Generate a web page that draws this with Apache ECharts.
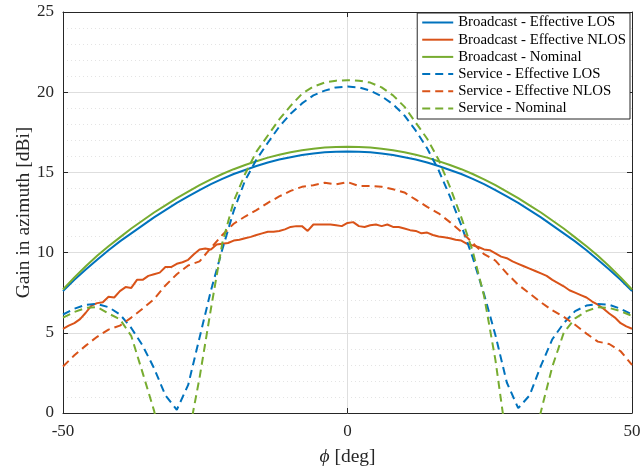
<!DOCTYPE html>
<html>
<head>
<meta charset="utf-8">
<script src="https://cdn.jsdelivr.net/npm/echarts@6/dist/echarts.min.js"></script>
<style>
  html, body { margin: 0; padding: 0; background: #fff; }
  #chart { width: 642px; height: 468px; }
</style>
</head>
<body>
<div id="chart"></div>
<script>
// azimuth angles, 2 deg step (smooth curves) and 1 deg step (ragged NLOS curve)
const phi = [-50, -48, -46, -44, -42, -40, -38, -36, -34, -32, -30, -28, -26, -24, -22, -20, -18, -16, -14, -12, -10, -8, -6, -4, -2,
  0, 2, 4, 6, 8, 10, 12, 14, 16, 18, 20, 22, 24, 26, 28, 30, 32, 34, 36, 38, 40, 42, 44, 46, 48, 50];
const phiFine = [-50, -49, -48, -47, -46, -45, -44, -43, -42, -41, -40, -39, -38, -37, -36, -35, -34, -33, -32, -31, -30,
  -29, -28, -27, -26, -25, -24, -23, -22, -21, -20, -19, -18, -17, -16, -15, -14, -13, -12, -11, -10,
  -9, -8, -7, -6, -5, -4, -3, -2, -1, 0, 1, 2, 3, 4, 5, 6, 7, 8, 9, 10,
  11, 12, 13, 14, 15, 16, 17, 18, 19, 20, 21, 22, 23, 24, 25, 26, 27, 28, 29, 30,
  31, 32, 33, 34, 35, 36, 37, 38, 39, 40, 41, 42, 43, 44, 45, 46, 47, 48, 49, 50];

const broadcastLos = [7.6, 8.3, 8.95, 9.55, 10.15, 10.7, 11.2, 11.7, 12.2, 12.65, 13.1, 13.5, 13.9, 14.27, 14.6, 14.9, 15.15, 15.4, 15.62, 15.8, 15.95, 16.08, 16.18, 16.25, 16.28,
  16.3, 16.28, 16.25, 16.18, 16.08, 15.95, 15.8, 15.62, 15.4, 15.15, 14.9, 14.6, 14.27, 13.9, 13.5, 13.1, 12.65, 12.2, 11.7, 11.2, 10.7, 10.15, 9.55, 8.95, 8.3, 7.6];
const broadcastNominal = [7.7, 8.45, 9.15, 9.8, 10.4, 10.95, 11.5, 12.0, 12.5, 12.95, 13.4, 13.8, 14.2, 14.57, 14.9, 15.2, 15.46, 15.7, 15.92, 16.1, 16.26, 16.38, 16.48, 16.55, 16.58,
  16.6, 16.58, 16.55, 16.48, 16.38, 16.26, 16.1, 15.92, 15.7, 15.46, 15.2, 14.9, 14.57, 14.2, 13.8, 13.4, 12.95, 12.5, 12.0, 11.5, 10.95, 10.4, 9.8, 9.15, 8.45, 7.7];
const broadcastNlos = [5.25, 5.45, 5.6, 5.85, 6.25, 6.7, 6.85, 6.9, 7.25, 7.2, 7.6, 7.85, 7.8, 8.3, 8.3, 8.55, 8.65, 8.75, 9.1, 9.1, 9.3,
  9.4, 9.55, 9.9, 10.2, 10.25, 10.2, 10.5, 10.55, 10.6, 10.75, 10.8, 10.9, 10.98, 11.1, 11.2, 11.3, 11.3, 11.35, 11.45, 11.6,
  11.65, 11.65, 11.35, 11.75, 11.75, 11.75, 11.75, 11.7, 11.65, 11.85, 11.9, 11.65, 11.6, 11.7, 11.75, 11.65, 11.75, 11.6, 11.6, 11.5,
  11.4, 11.35, 11.2, 11.25, 11.1, 11.0, 10.95, 10.9, 10.8, 10.75, 10.55, 10.45, 10.35, 10.2, 10.15, 9.95, 9.75, 9.65, 9.45, 9.3,
  9.15, 9.0, 8.85, 8.7, 8.55, 8.3, 8.1, 7.9, 7.65, 7.5, 7.35, 7.2, 6.95, 6.75, 6.5, 6.2, 5.95, 5.6, 5.4, 5.25];
const serviceLos = [6.14, 6.5, 6.75, 6.8, 6.6, 6.15, 5.3, 4.2, 2.8, 1.1, 0.2, 1.75, 4.7, 7.64, 10.2, 12.6, 14.5, 15.8, 16.85, 17.85, 18.65, 19.3, 19.8, 20.1, 20.3,
  20.35, 20.3, 20.1, 19.75, 19.25, 18.55, 17.6, 16.5, 15.15, 13.5, 11.7, 9.7, 7.4, 4.85, 1.9, 0.3, 1.1, 2.95, 4.6, 5.6, 6.35, 6.7, 6.8, 6.75, 6.5, 6.15];
const serviceNlos = [2.9, 3.6, 4.2, 4.75, 5.2, 5.45, 5.95, 6.5, 7.1, 7.95, 8.65, 9.2, 9.45, 10.3, 11.1, 11.8, 12.25, 12.65, 13.1, 13.5, 13.85, 14.1, 14.2, 14.35, 14.25,
  14.4, 14.15, 14.15, 14.1, 13.95, 13.75, 13.3, 12.85, 12.45, 11.9, 11.3, 10.6, 9.9, 9.5, 8.7, 8.0, 7.45, 6.9, 6.4, 6.0, 5.5, 4.95, 4.45, 4.3, 3.85, 3.0];
const serviceNominal = [5.94, 6.3, 6.55, 6.6, 6.2, 5.85, 4.8, 2.5, 0.15, -3, -5, -1.55, 2.2, 6.5, 10.6, 13.2, 14.9, 16.3, 17.3, 18.3, 19.15, 19.9, 20.35, 20.6, 20.72,
  20.75, 20.72, 20.6, 20.3, 19.8, 19.1, 18.1, 17.1, 15.8, 14.1, 12.2, 10.1, 7.3, 3.3, -1.8, -5, -3, 0.1, 2.9, 5.0, 5.9, 6.35, 6.6, 6.55, 6.35, 6.05];

const blue = '#0072BD', orange = '#D95319', green = '#77AC30';
const font = 'Liberation Serif';
const ink = '#262626';

function pairs(xs, ys) {
  return xs.map((x, i) => [x, ys[i]]);
}

function line(name, xs, ys, color, dashed) {
  return {
    name: name,
    type: 'line',
    data: pairs(xs, ys),
    symbol: 'none',
    clip: true,
    animation: false,
    itemStyle: { color: color },
    lineStyle: { color: color, width: 2, type: dashed ? [8, 5] : 'solid' }
  };
}

const chart = echarts.init(document.getElementById('chart'));

chart.setOption({
  backgroundColor: '#fff',
  animation: false,
  grid: { left: 63, right: 10, top: 12, bottom: 55, outerBoundsMode: 'none', containLabel: false },
  legend: {
    orient: 'vertical',
    right: 12,
    top: 13,
    itemWidth: 31,
    itemHeight: 14,
    itemGap: 2.2,
    padding: [2, 4, 3, 4],
    borderColor: ink,
    borderWidth: 1,
    backgroundColor: '#fff',
    itemStyle: { opacity: 0 },
    textStyle: { fontFamily: font, fontSize: 14.8, color: '#000' }
  },
  xAxis: [
    {
      type: 'value', min: -50, max: 50, interval: 50,
      axisLine: { onZero: false, lineStyle: { color: ink, width: 1 } },
      axisTick: { inside: true, length: 5, lineStyle: { color: ink } },
      axisLabel: { fontFamily: font, fontSize: 17, color: ink, margin: 10 },
      splitLine: { show: true, lineStyle: { color: '#dedede', width: 1 } },
      name: '{i|ϕ} [deg]',
      nameLocation: 'middle',
      nameGap: 34,
      nameMoveOverlap: false,
      nameTextStyle: {
        fontFamily: font, fontSize: 19.5, color: ink,
        rich: { i: { fontFamily: font, fontSize: 19.5, fontStyle: 'italic', color: ink } }
      }
    },
    {
      type: 'value', min: -50, max: 50, interval: 50, position: 'top',
      axisLine: { onZero: false, lineStyle: { color: ink, width: 1 } },
      axisTick: { inside: true, length: 5, lineStyle: { color: ink } },
      axisLabel: { show: false },
      splitLine: { show: false }
    }
  ],
  yAxis: [
    {
      type: 'value', min: 0, max: 25, interval: 5,
      axisLine: { show: true, onZero: false, lineStyle: { color: ink, width: 1 } },
      axisTick: { show: true, inside: true, length: 5, lineStyle: { color: ink } },
      minorTick: { show: false, splitNumber: 5 },
      minorSplitLine: { show: true, lineStyle: { color: '#e4e4e4', type: [1, 3] } },
      axisLabel: { fontFamily: font, fontSize: 17, color: ink, margin: 9 },
      splitLine: { show: true, lineStyle: { color: '#dedede', width: 1 } },
      name: 'Gain in azimuth [dBi]',
      nameLocation: 'middle',
      nameGap: 29,
      nameMoveOverlap: false,
      nameTextStyle: { fontFamily: font, fontSize: 19.5, color: ink }
    },
    {
      type: 'value', min: 0, max: 25, interval: 5, position: 'right',
      axisLine: { show: true, onZero: false, lineStyle: { color: ink, width: 1 } },
      axisTick: { show: true, inside: true, length: 5, lineStyle: { color: ink } },
      axisLabel: { show: false },
      splitLine: { show: false }
    }
  ],
  series: [
    line('Broadcast - Effective LOS', phi, broadcastLos, blue, false),
    line('Broadcast - Effective NLOS', phiFine, broadcastNlos, orange, false),
    line('Broadcast - Nominal', phi, broadcastNominal, green, false),
    line('Service - Effective LOS', phi, serviceLos, blue, true),
    line('Service - Effective NLOS', phi, serviceNlos, orange, true),
    line('Service - Nominal', phi, serviceNominal, green, true)
  ]
});
</script>
</body>
</html>
